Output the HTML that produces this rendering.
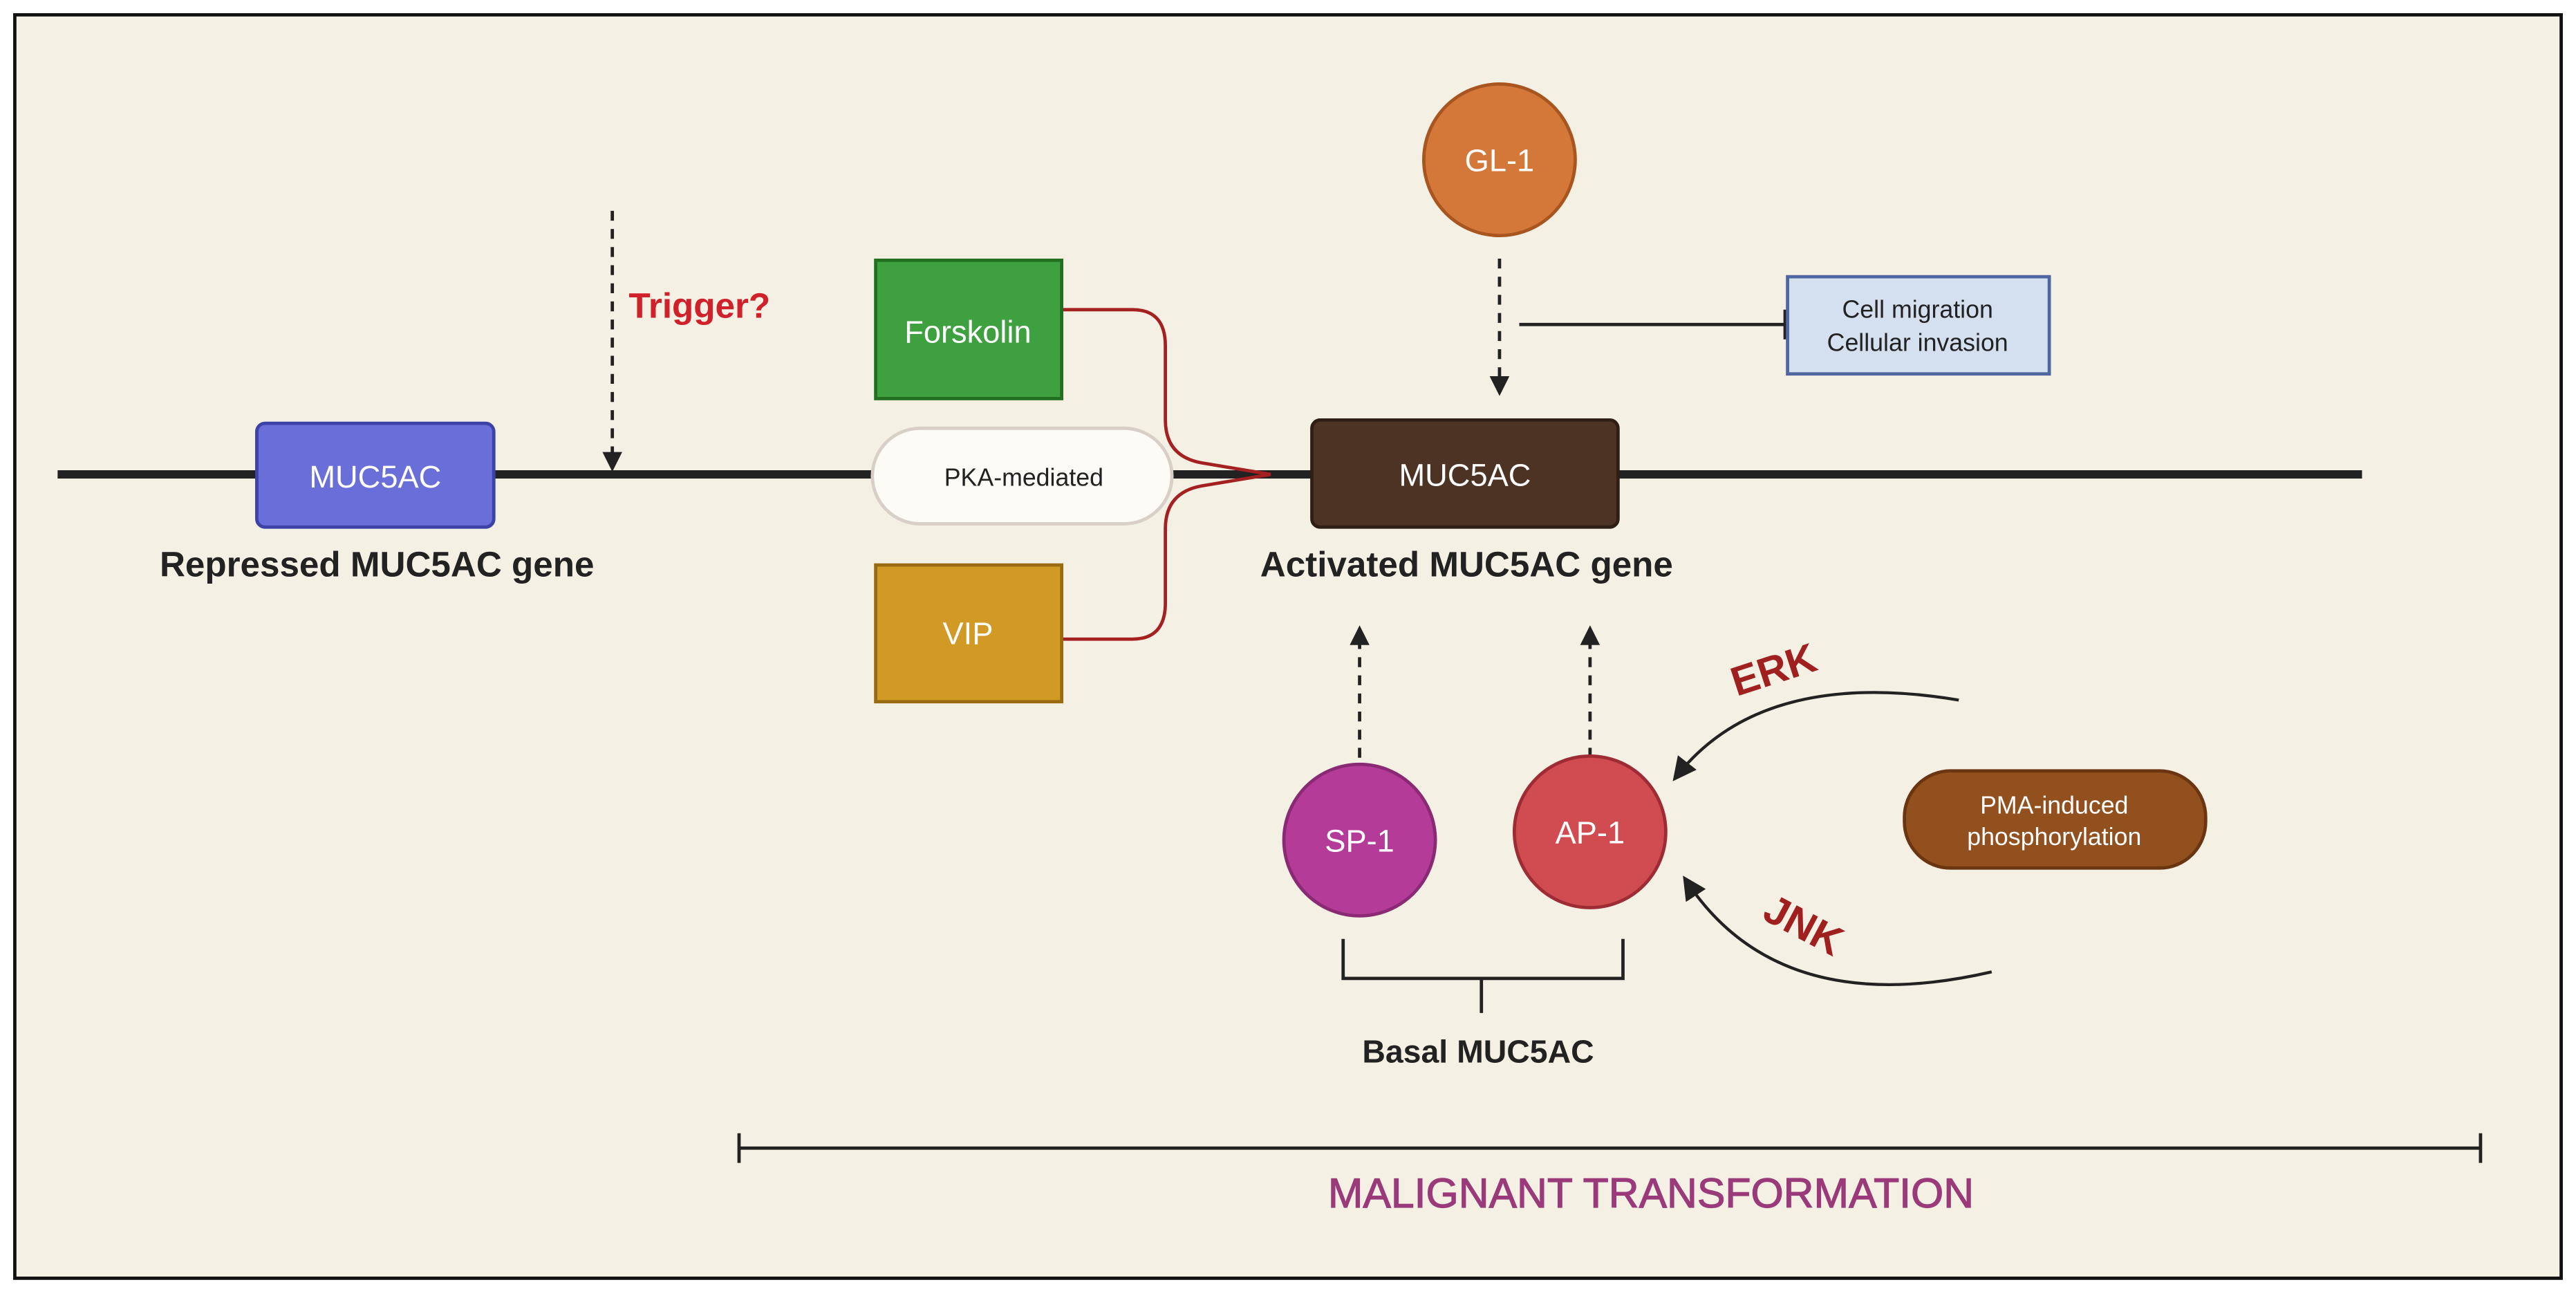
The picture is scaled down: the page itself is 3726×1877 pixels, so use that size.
<!DOCTYPE html>
<html><head><meta charset="utf-8"><style>
html,body{margin:0;padding:0;background:#fff;}
svg{display:block;}
text{font-family:"Liberation Sans",sans-serif;}
</style></head><body>
<svg width="3726" height="1877" viewBox="0 0 1565 788" preserveAspectRatio="none" xmlns="http://www.w3.org/2000/svg">
<defs>
<marker id="ah" viewBox="0 0 10 10" refX="8" refY="5" markerWidth="6" markerHeight="6" orient="auto"><path d="M0,0 L10,5 L0,10 z" fill="#222"/></marker>
<marker id="ah2" viewBox="0 0 10 10" refX="8" refY="5" markerWidth="8" markerHeight="8" orient="auto"><path d="M0,0 L10,5 L0,10 z" fill="#222"/></marker>
</defs>
<rect x="0" y="0" width="1565" height="788" fill="#fff"/>
<rect x="9" y="9" width="1547" height="767" fill="#f5f0e4" stroke="#111" stroke-width="2"/>
<line x1="35" y1="288" x2="1435" y2="288" stroke="#222" stroke-width="5"/>
<rect x="156" y="257" width="144" height="63" rx="5" fill="#6a6ed8" stroke="#3d42a6" stroke-width="2"/>
<text x="228" y="296" font-size="19" fill="#fff" text-anchor="middle">MUC5AC</text>
<text x="229" y="350" font-size="21.5" font-weight="bold" fill="#222" text-anchor="middle">Repressed MUC5AC gene</text>
<line x1="372" y1="128" x2="372" y2="284" stroke="#222" stroke-width="2" stroke-dasharray="6,5" marker-end="url(#ah)"/>
<text x="382" y="193" font-size="21.5" font-weight="bold" fill="#d0202a">Trigger?</text>
<path d="M645,188 L688,188 Q708,188 708,210 L708,255 Q708,277 730,281 L772,288" fill="none" stroke="#a52020" stroke-width="2"/>
<path d="M645,388 L688,388 Q708,388 708,366 L708,321 Q708,299 730,295 L772,288" fill="none" stroke="#a52020" stroke-width="2"/>
<rect x="532" y="158" width="113" height="84" fill="#3fa040" stroke="#22701f" stroke-width="2"/>
<text x="588" y="208" font-size="19" fill="#fff" text-anchor="middle">Forskolin</text>
<rect x="532" y="343" width="113" height="83" fill="#d09a25" stroke="#9a6a12" stroke-width="2"/>
<text x="588" y="391" font-size="19" fill="#fff" text-anchor="middle">VIP</text>
<rect x="530" y="260" width="182" height="58" rx="29" fill="#fdfbf6" stroke="#d8cfc8" stroke-width="2"/>
<text x="622" y="295" font-size="15" fill="#222" text-anchor="middle">PKA-mediated</text>
<rect x="797" y="255" width="186" height="65" rx="5" fill="#4c3324" stroke="#2e1e14" stroke-width="2"/>
<text x="890" y="295" font-size="19" fill="#fff" text-anchor="middle">MUC5AC</text>
<text x="891" y="350" font-size="21.5" font-weight="bold" fill="#222" text-anchor="middle">Activated MUC5AC gene</text>
<circle cx="911" cy="97" r="46" fill="#d4783a" stroke="#a85520" stroke-width="2"/>
<text x="911" y="104" font-size="19" fill="#fff" text-anchor="middle">GL-1</text>
<line x1="911" y1="157" x2="911" y2="238" stroke="#222" stroke-width="2" stroke-dasharray="6,5" marker-end="url(#ah)"/>
<line x1="923" y1="197" x2="1085" y2="197" stroke="#222" stroke-width="2"/>
<line x1="1085" y1="188" x2="1085" y2="206" stroke="#222" stroke-width="3"/>
<rect x="1086" y="168" width="159" height="59" fill="#d4dff0" stroke="#4e67a0" stroke-width="2"/>
<text x="1165" y="193" font-size="15" fill="#222" text-anchor="middle">Cell migration</text>
<text x="1165" y="213" font-size="15" fill="#222" text-anchor="middle">Cellular invasion</text>
<line x1="826" y1="460" x2="826" y2="382" stroke="#222" stroke-width="2" stroke-dasharray="6,5" marker-end="url(#ah)"/>
<line x1="966" y1="460" x2="966" y2="382" stroke="#222" stroke-width="2" stroke-dasharray="6,5" marker-end="url(#ah)"/>
<circle cx="826" cy="510" r="46" fill="#b43c98" stroke="#8a2a74" stroke-width="2"/>
<text x="826" y="517" font-size="19" fill="#fff" text-anchor="middle">SP-1</text>
<circle cx="966" cy="505" r="46" fill="#d04c50" stroke="#9e2c34" stroke-width="2"/>
<text x="966" y="512" font-size="19" fill="#fff" text-anchor="middle">AP-1</text>
<path d="M816,570 L816,594 L986,594 L986,570 M900,594 L900,615" fill="none" stroke="#222" stroke-width="2"/>
<text x="898" y="645" font-size="19.5" font-weight="bold" fill="#222" text-anchor="middle">Basal MUC5AC</text>
<path d="M1190,425 Q1070,405 1018,472" fill="none" stroke="#222" stroke-width="1.8" marker-end="url(#ah2)"/>
<path d="M1210,590 Q1080,620 1024,534" fill="none" stroke="#222" stroke-width="1.8" marker-end="url(#ah2)"/>
<text x="1078" y="415" font-size="25" font-weight="bold" fill="#a02020" text-anchor="middle" transform="rotate(-18 1078 408)">ERK</text>
<text x="1095" y="570" font-size="25" font-weight="bold" fill="#a02020" text-anchor="middle" transform="rotate(28 1095 563)">JNK</text>
<rect x="1157" y="468" width="183" height="59" rx="28" fill="#93501f" stroke="#6a3510" stroke-width="2"/>
<text x="1248" y="494" font-size="15" fill="#fff" text-anchor="middle">PMA-induced</text>
<text x="1248" y="513" font-size="15" fill="#fff" text-anchor="middle">phosphorylation</text>
<line x1="449" y1="697" x2="1507" y2="697" stroke="#222" stroke-width="2"/>
<line x1="449" y1="688" x2="449" y2="706" stroke="#222" stroke-width="2"/>
<line x1="1507" y1="688" x2="1507" y2="706" stroke="#222" stroke-width="2"/>
<text x="1003" y="733" font-size="25.5" fill="#9a3a7a" stroke="#9a3a7a" stroke-width="0.5" text-anchor="middle">MALIGNANT TRANSFORMATION</text>
</svg>
</body></html>
